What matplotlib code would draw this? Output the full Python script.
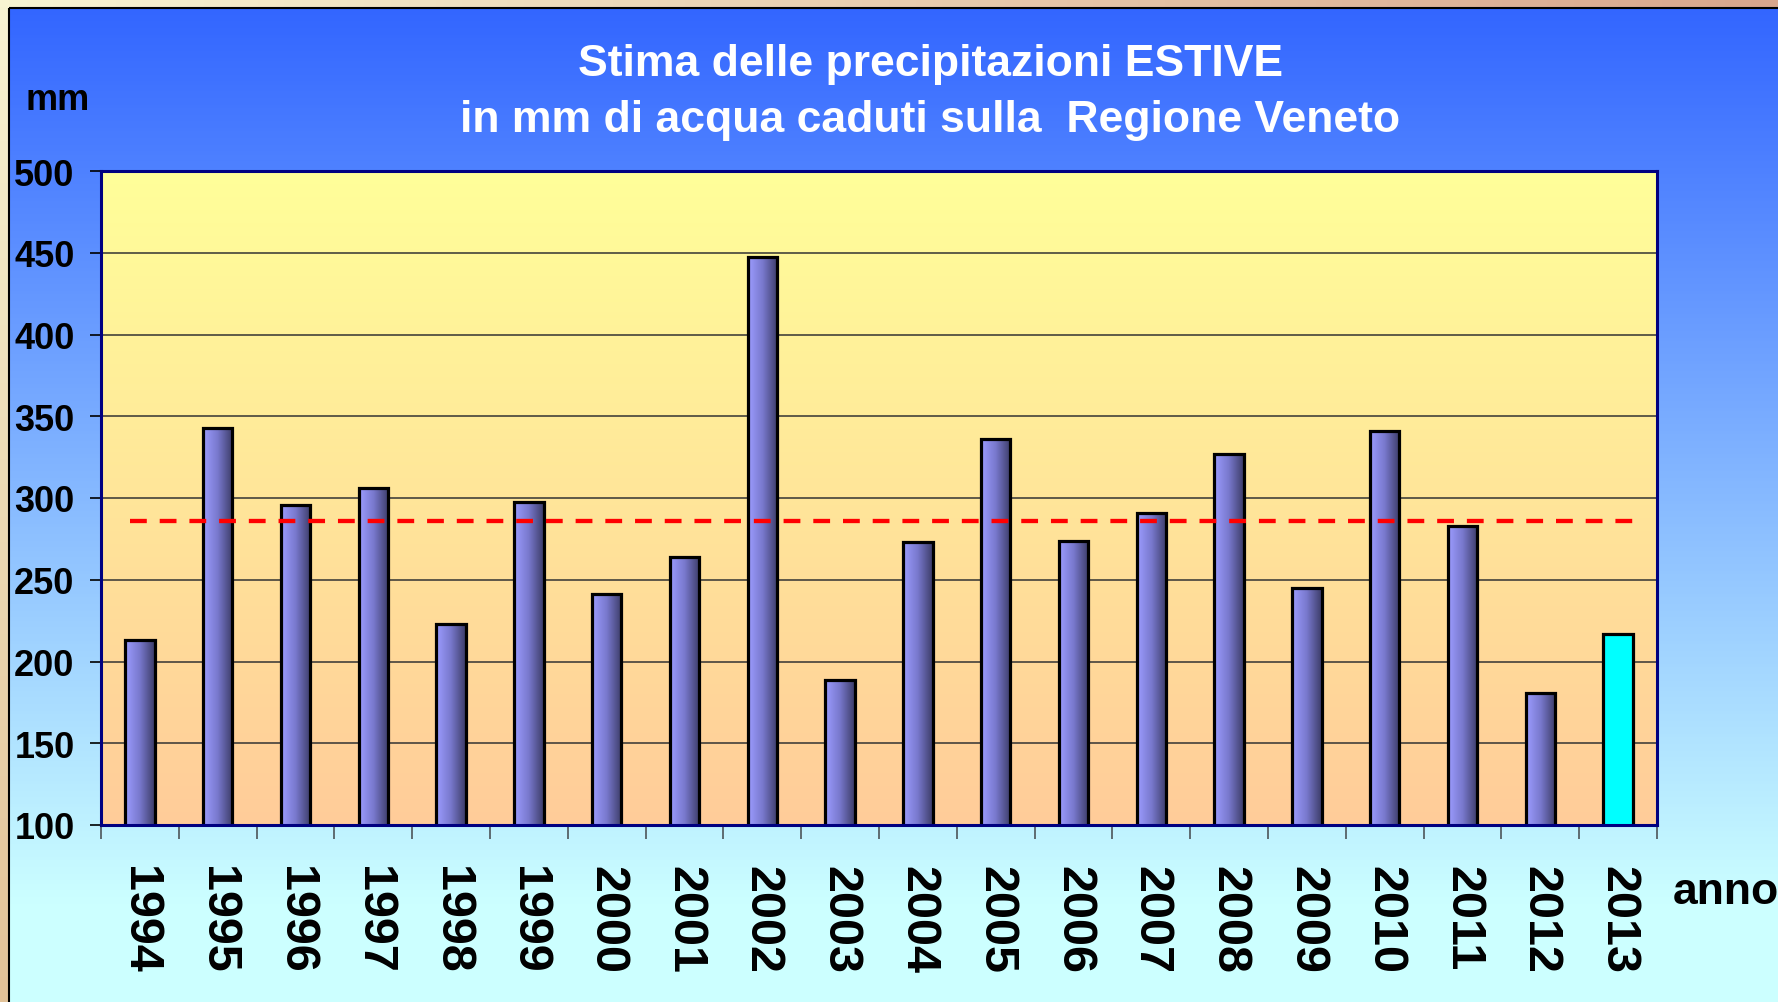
import numpy as np
import matplotlib
matplotlib.use('Agg')
import matplotlib.pyplot as plt
from matplotlib.colors import LinearSegmentedColormap, to_rgb
from matplotlib.patches import Rectangle

plt.rcParams['font.family'] = ['Liberation Sans', 'DejaVu Sans']

# ---------------- data ----------------
years = ['1994', '1995', '1996', '1997', '1998', '1999', '2000', '2001', '2002', '2003',
         '2004', '2005', '2006', '2007', '2008', '2009', '2010', '2011', '2012', '2013']
rain_mm = [213, 343, 296, 306, 223, 297.5, 241, 264, 447.5, 188.5,
           273, 336, 274, 291, 327, 245, 341, 283, 181, 217]
mean_mm = 285.8
highlight_year = '2013'
y_ticks = [100, 150, 200, 250, 300, 350, 400, 450, 500]
title_lines = ['Stima delle precipitazioni ESTIVE',
               'in mm di acqua caduti sulla  Regione Veneto']
y_unit = 'mm'
x_unit = 'anno'

# ---------------- figure ----------------
W, H = 1778, 1003
fig = plt.figure(figsize=(W / 100, H / 100), dpi=100)

# background layer in pixel coordinates
bg = fig.add_axes([0, 0, 1, 1])
bg.set_axis_off()
bg.set_xlim(0, W)
bg.set_ylim(H, 0)

# outer beige/tan bilinear gradient
tl = np.array(to_rgb('#F8F4D2'))
tr = np.array(to_rgb('#D8A68C'))
bl = np.array(to_rgb('#E2C298'))
br = np.array(to_rgb('#D09880'))
u = np.linspace(0, 1, 200)[None, :, None]
v = np.linspace(0, 1, 120)[:, None, None]
outer = (1 - u) * (1 - v) * tl + u * (1 - v) * tr + (1 - u) * v * bl + u * v * br
bg.imshow(outer, extent=[0, W, H, 0], origin='upper', aspect='auto', zorder=0)

# blue -> cyan panel
top_c = np.array(to_rgb('#3366FF'))
bot_c = np.array(to_rgb('#CCFFFF'))
ys = np.linspace(9, H, 300)
t = np.clip((ys - 9) / (900 - 9), 0, 1)[:, None, None]
panel = (1 - t) * top_c + t * bot_c
panel = np.repeat(panel, 2, axis=1)
bg.imshow(panel, extent=[9, W + 5, H + 5, 9], origin='upper', aspect='auto', zorder=1)
bg.add_patch(Rectangle((9, 9), W, H, facecolor='none', edgecolor='black', lw=1.5, zorder=2))
bg.set_xlim(0, W)
bg.set_ylim(H, 0)

# ---------------- plot area ----------------
left, right, top, bottom = 101, 1657, 172, 826
ax = fig.add_axes([left / W, (H - bottom) / H, (right - left) / W, (bottom - top) / H])
ax.patch.set_visible(False)

pa = np.linspace(0, 1, 200)[:, None, None]
plot_grad = (1 - pa) * np.array(to_rgb('#FFFF99')) + pa * np.array(to_rgb('#FFCC99'))
plot_grad = np.repeat(plot_grad, 2, axis=1)
ax.imshow(plot_grad, extent=[0, 1, 0, 1], transform=ax.transAxes, origin='upper',
          aspect='auto', zorder=-1)

x = np.arange(len(years))
bw = 0.38
bar_cmap = LinearSegmentedColormap.from_list('bar', ['#9C9CFF', '#7878CC', '#3C3C68'])
hgrad = np.linspace(0, 1, 64)[None, :]
colors = ['#00FFFF' if yr == highlight_year else 'none' for yr in years]
bars = ax.bar(x, rain_mm, width=bw, color=colors, edgecolor='black', linewidth=2.3, zorder=3)
for xi, yr, val in zip(x, years, rain_mm):
    if yr != highlight_year:
        ax.imshow(hgrad, extent=[xi - bw / 2, xi + bw / 2, 0, val], cmap=bar_cmap,
                  aspect='auto', zorder=2.9)

ax.plot([-0.13, 19.3], [mean_mm, mean_mm], color='#FF0000', lw=3.1,
        ls=(0, (3.9, 3.0)), dash_capstyle='butt', zorder=4)

ax.set_xlim(-0.5, len(years) - 0.5)
ax.set_ylim(100, 500)
ax.set_aspect('auto')

ax.set_axisbelow(True)
ax.yaxis.grid(True, color='#333333', lw=1.1)
ax.xaxis.grid(False)

for s in ax.spines.values():
    s.set_color('#000080')
    s.set_linewidth(2.2)
    s.set_zorder(5)

ax.set_yticks(y_ticks)
ax.set_yticklabels([str(t) for t in y_ticks], fontsize=26, fontweight='bold')
ax.tick_params(axis='y', direction='out', length=8, width=1.2, color='black', pad=11)

ax.set_xticks(x)
ax.set_xticklabels(years, rotation=-90, fontsize=35, fontweight='bold', ha='center', va='top')
ax.tick_params(axis='x', which='major', length=0, pad=29)
ax.set_xticks(np.arange(-0.5, len(years), 1), minor=True)
ax.tick_params(axis='x', which='minor', direction='out', length=10, width=1.3, color='#556066')

# ---------------- texts ----------------
fig.text(930 / W, 1 - 76 / H, title_lines[0], ha='center', va='baseline',
         color='white', fontsize=32, fontweight='bold')
fig.text(930 / W, 1 - 132 / H, title_lines[1], ha='center', va='baseline',
         color='white', fontsize=32, fontweight='bold')
fig.text(58 / W, 1 - 110 / H, y_unit, ha='center', va='baseline',
         fontsize=26, fontweight='bold', color='black')
fig.text(1673 / W, 1 - 904 / H, x_unit, ha='left', va='baseline',
         fontsize=32, fontweight='bold', color='black')

fig.savefig('out.png', dpi=100)
